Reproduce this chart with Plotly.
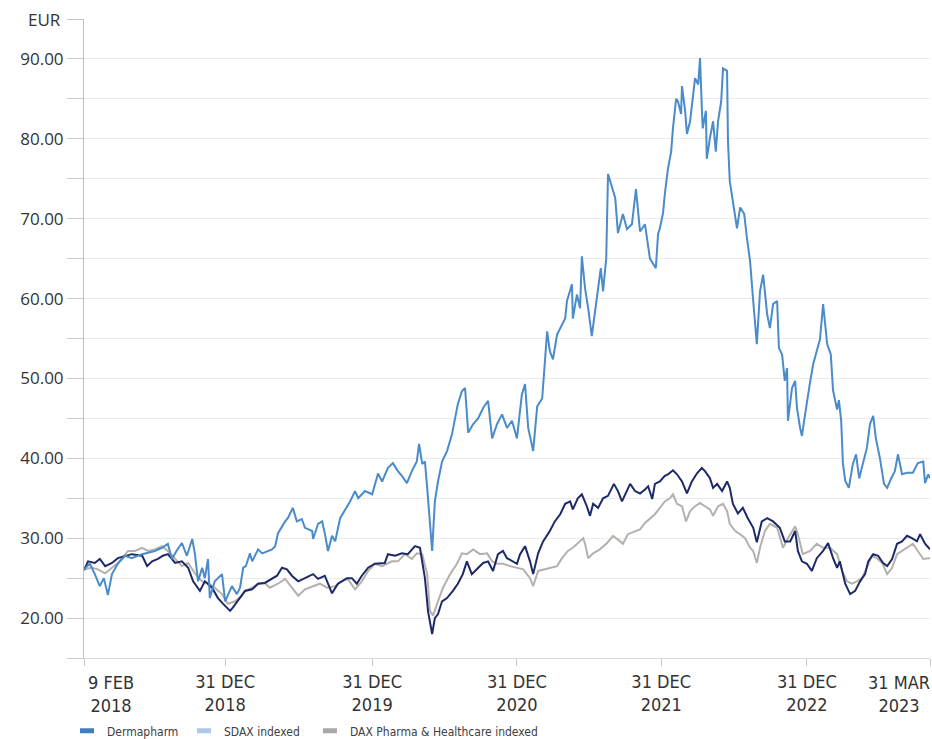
import pandas as pd
import plotly.graph_objects as go

listing_date = "2018-02-09"

# Dermapharm share price (EUR), days since listing
dpx_days = [0,13,24,35,44,53,62,75,91,106,129,146,157,173,186,195,206,217,228,240,246,253,262,268,275,279,290,306,313,328,339,346,353,359,368,373,386,395,406,417,424,430,446,452,463,472,483,490,506,508,519,528,534,541,550,557,568,579,590,601,608,623,639,652,661,674,685,696,705,716,727,738,743,750,756,761,767,772,778,785,794,805,816,823,829,838,845,852,863,874,885,896,905,916,927,938,949,960,971,978,985,996,1005,1016,1020,1027,1033,1040,1049,1060,1067,1071,1082,1084,1093,1100,1104,1111,1118,1126,1133,1140,1146,1151,1158,1162,1171,1178,1184,1195,1204,1215,1224,1233,1244,1255,1268,1273,1277,1284,1288,1295,1302,1306,1313,1317,1324,1326,1333,1337,1344,1348,1355,1362,1366,1370,1372,1379,1381,1388,1395,1401,1406,1413,1417,1426,1428,1432,1439,1448,1455,1464,1470,1477,1484,1492,1499,1506,1515,1521,1528,1537,1541,1548,1554,1559,1561,1570,1577,1581,1588,1592,1599,1603,1610,1617,1625,1632,1639,1648,1656,1661,1670,1674,1679,1683,1688,1696,1705,1712,1719,1727,1736,1743,1750,1756,1765,1774,1781,1790,1798,1805,1814,1825,1838,1849,1861,1865,1872,1876]
dpx_vals = [26.1,26.8,25.5,24.0,25.0,22.9,25.5,26.8,27.8,27.5,
            28.0,28.2,28.4,28.8,29.3,27.4,28.5,29.4,27.8,29.9,
            28.0,24.6,26.3,25.0,27.4,22.5,24.6,25.5,22.1,24.0,
            23.0,23.8,26.3,26.5,28.1,27.1,28.6,28.1,28.4,28.6,
            29.0,30.6,32.1,32.5,33.8,32.1,32.4,31.3,30.9,29.9,
            31.8,32.1,30.6,28.4,30.3,29.6,32.5,33.6,34.6,35.9,
            35.0,35.9,35.5,38.1,37.1,38.8,39.4,38.4,37.8,36.9,
            38.4,39.6,41.8,39.3,39.6,36.3,31.3,28.4,34.6,37.1,
            39.6,40.9,43.0,45.0,46.8,48.4,48.8,43.2,44.3,45.0,
            46.3,47.2,42.5,44.3,45.5,43.8,44.7,42.5,48.0,49.3,
            43.8,40.9,46.5,47.5,50.5,55.9,53.4,52.4,55.5,56.8,
            57.5,59.7,61.8,57.5,60.5,58.8,65.3,61.3,58.8,55.3,
            58.4,61.8,63.8,60.9,65.0,75.6,73.8,72.6,68.2,70.6,
            68.7,69.3,73.7,68.4,69.3,65.0,63.8,68.1,68.8,70.7,
            73.1,76.3,78.4,81.3,85.0,84.7,83.1,86.6,83.5,80.6,
            82.2,84.4,87.6,86.8,90.1,83.9,81.3,83.5,77.5,80.1,
            82.2,78.4,82.2,84.7,88.8,88.5,79.7,74.7,72.2,68.8,
            71.4,70.6,67.6,64.7,59.7,54.3,60.9,63.0,58.0,56.3,
            59.3,59.7,53.8,53.0,49.7,51.3,44.7,48.8,49.7,46.3,
            43.8,42.8,45.5,47.2,49.5,51.8,53.4,54.9,59.3,54.3,
            53.0,48.5,46.1,47.3,44.7,39.3,37.2,36.3,39.3,40.5,
            37.5,39.3,41.3,44.3,45.3,42.5,40.0,36.8,36.3,37.5,
            38.4,40.5,38.0,38.2,38.2,39.4,39.6,36.9,38.0,37.5]

# SDAX indexed
sdax_days = [0,9,24,35,47,62,75,91,106,129,140,151,164,175,186,202,217,231,242,257,268,284,297,308,324,330,341,357,373,386,401,417,428,439,450,461,475,490,508,519,534,550,563,583,594,605,616,630,645,667,674,690,705,718,734,745,756,763,772,778,785,794,805,818,829,840,849,860,874,885,896,907,918,929,938,951,960,967,978,989,996,1007,1018,1033,1044,1056,1067,1078,1084,1095,1104,1115,1122,1129,1140,1151,1162,1175,1184,1193,1204,1211,1222,1233,1244,1251,1260,1266,1277,1288,1295,1306,1315,1326,1337,1348,1359,1370,1377,1388,1395,1404,1415,1426,1432,1439,1450,1461,1472,1484,1492,1503,1515,1528,1543,1554,1566,1577,1583,1592,1603,1614,1625,1639,1650,1661,1670,1676,1688,1699,1710,1721,1732,1739,1750,1761,1772,1781,1792,1803,1814,1825,1836,1847,1854,1865,1876]
sdax_vals = [26.0,27.1,26.9,27.4,26.5,26.9,27.5,27.8,28.0,27.8,26.5,27.1,27.4,27.8,28.0,26.9,27.1,26.3,24.6,23.4,24.6,23.8,22.5,21.8,20.9,21.3,22.1,23.4,23.6,24.3,24.4,25.0,25.3,26.3,26.1,25.3,24.6,25.0,25.5,24.9,25.3,23.1,24.3,25.0,25.0,24.3,25.3,26.3,26.8,26.9,28.0,27.8,28.1,28.0,29.0,28.8,25.0,20.8,18.0,20.0,20.5,22.1,22.5,23.4,24.3,25.5,27.1,25.5,26.3,26.9,27.1,25.9,28.0,28.4,27.5,27.1,26.8,28.0,29.0,27.1,25.5,28.1,29.6,30.9,32.1,33.0,34.3,34.6,33.6,35.0,35.5,34.0,32.8,34.3,33.8,35.0,35.3,36.8,35.9,34.6,35.9,36.8,35.9,35.6,36.1,36.5,34.9,36.8,37.1,37.8,38.0,38.5,38.0,37.1,35.6,37.1,38.1,38.8,38.4,37.5,36.3,36.8,35.9,37.1,36.3,34.3,33.1,33.8,32.5,31.3,29.5,32.1,32.5,32.1,31.3,29.6,29.6,30.9,28.4,27.1,26.8,25.9,27.5,28.4,29.4,27.5,26.3,27.1,24.3,23.0,23.4,24.6,25.5,27.1,28.0,27.8,26.9,26.5,27.4,29.3,29.6,30.3,30.0,29.6,30.5,29.3,28.6]

# DAX Pharma & Healthcare indexed
pharma_days = [0,18,31,47,62,75,98,113,129,142,157,173,186,202,217,231,246,262,275,290,306,319,335,350,357,373,386,401,412,430,446,461,475,490,508,523,539,557,572,585,601,616,630,645,661,683,696,712,727,738,750,761,767,774,785,796,812,827,838,849,863,878,894,905,916,929,945,960,974,989,996,1007,1022,1033,1049,1060,1073,1084,1095,1107,1111,1118,1129,1144,1160,1173,1189,1195,1206,1222,1233,1244,1255,1266,1277,1288,1299,1306,1315,1326,1335,1344,1355,1366,1377,1388,1395,1406,1417,1426,1432,1444,1455,1466,1477,1484,1492,1499,1510,1521,1537,1550,1561,1577,1583,1594,1610,1625,1639,1654,1670,1681,1692,1703,1714,1725,1736,1747,1758,1770,1781,1792,1803,1814,1825,1838,1849,1861,1872,1876]
pharma_vals = [26.1,26.3,26.1,25.6,26.3,26.9,28.4,28.4,28.8,28.4,28.6,29.0,28.4,27.4,26.5,26.9,25.6,24.6,24.4,23.8,23.0,21.8,22.1,22.8,23.4,23.8,24.3,24.4,23.8,24.3,24.9,23.8,22.8,23.6,24.0,24.3,23.8,24.0,24.6,24.9,23.6,24.6,25.9,26.8,26.5,27.1,27.1,28.0,27.4,28.1,28.0,25.5,20.9,20.3,22.1,23.8,25.5,26.8,28.1,28.0,28.6,28.0,28.1,27.1,26.8,26.8,26.5,26.3,26.1,25.0,24.0,25.9,26.1,26.3,26.5,27.5,28.4,28.8,29.4,30.0,29.3,27.5,28.1,28.6,29.4,30.3,29.6,29.3,30.5,30.9,31.1,31.9,32.4,33.0,33.8,34.6,35.0,35.5,34.3,34.0,32.1,33.4,34.0,34.4,34.0,33.6,32.8,34.0,34.3,33.4,31.8,30.9,30.5,30.0,28.8,28.4,26.9,28.8,30.9,31.8,31.3,28.8,30.0,31.5,30.5,28.0,28.4,29.3,28.8,28.8,28.0,25.9,24.6,24.3,24.6,25.0,26.3,27.8,27.5,26.9,25.5,26.3,28.0,28.4,28.8,29.3,28.4,27.4,27.5,27.5]

series_names = ["Dermapharm", "SDAX indexed", "DAX Pharma & Healthcare indexed"]
line_colors = ["#4a8bca", "#1e2a68", "#b5b0ad"]
legend_colors = ["#3f7fc1", "#aec8e8", "#a8a8a8"]

x_tick_dates = ["2018-02-09", "2018-12-19", "2019-11-10", "2020-09-26", "2021-08-12", "2022-07-01", "2023-03-31"]
x_tick_labels = ["9 FEB<br>2018", "31 DEC<br>2018", "31 DEC<br>2019", "31 DEC<br>2020",
                 "31 DEC<br>2021", "31 DEC<br>2022", "31 MAR<br>2023"]
y_tick_vals = [15, 20, 25, 30, 35, 40, 45, 50, 55, 60, 65, 70, 75, 80, 85, 90, 95]
y_tick_text = ["", "20.00", "", "30.00", "", "40.00", "", "50.00", "", "60.00", "", "70.00",
               "", "80.00", "", "90.00", ""]

assert len(dpx_days) == len(dpx_vals)
assert len(sdax_days) == len(sdax_vals)
assert len(pharma_days) == len(pharma_vals)

start = pd.Timestamp(listing_date)
def to_dates(days):
    return start + pd.to_timedelta(days, unit="D")

X_FONT = "Liberation Sans Narrow, DejaVu Sans Condensed, sans-serif"
Y_FONT = "Open Sans, Noto Sans, sans-serif"

fig = go.Figure()
fig.add_trace(go.Scatter(x=to_dates(pharma_days), y=pharma_vals, mode="lines",
                         line=dict(color=line_colors[2], width=2), showlegend=False, hoverinfo="skip"))
fig.add_trace(go.Scatter(x=to_dates(sdax_days), y=sdax_vals, mode="lines",
                         line=dict(color=line_colors[1], width=2), showlegend=False, hoverinfo="skip"))
fig.add_trace(go.Scatter(x=to_dates(dpx_days), y=dpx_vals, mode="lines",
                         line=dict(color=line_colors[0], width=2), showlegend=False, hoverinfo="skip"))

legend_ids = ["legend", "legend2", "legend3"]
legend_x = [-0.0201, 0.1182, 0.2671]
for name, col, lid in zip(series_names, legend_colors, legend_ids):
    fig.add_trace(go.Scatter(x=[None], y=[None], mode="markers", name=name, legend=lid,
                             marker=dict(symbol="line-ew", size=10,
                                         line=dict(color=col, width=5), color=col)))

legend_common = dict(orientation="h", xanchor="left", y=-0.114, yanchor="middle",
                     font=dict(family=X_FONT, size=12, color="#404040"),
                     itemwidth=30, bgcolor="rgba(0,0,0,0)")

# middle tick labels through the axis; the first/last are edge-aligned as in the reference
axis_ticktext = [""] + x_tick_labels[1:-1] + [""]

fig.update_layout(
    width=932, height=739,
    margin=dict(l=84, r=2, t=19, b=81, autoexpand=False),
    paper_bgcolor="white", plot_bgcolor="white",
    font=dict(family=Y_FONT, color="#333333"),
    showlegend=True,
    legend=dict(x=legend_x[0], **legend_common),
    legend2=dict(x=legend_x[1], **legend_common),
    legend3=dict(x=legend_x[2], **legend_common),
    xaxis=dict(type="date", range=[x_tick_dates[0], x_tick_dates[-1]], automargin=False,
               tickmode="array", tickvals=x_tick_dates, ticktext=axis_ticktext,
               ticks="outside", ticklen=7, tickcolor="#c8c8c8", tickwidth=1,
               showline=True, linecolor="#d9d9d9", linewidth=1,
               showgrid=False, zeroline=False,
               tickfont=dict(family=X_FONT, size=18, color="#333333")),
    yaxis=dict(range=[15, 95], automargin=False,
               tickmode="array", tickvals=y_tick_vals, ticktext=y_tick_text,
               ticks="outside", ticklen=16, tickcolor="#c8c8c8", tickwidth=1,
               showline=True, linecolor="#bdbdbd", linewidth=1,
               showgrid=True, gridcolor="#ebebeb", gridwidth=1, zeroline=False,
               tickfont=dict(family=Y_FONT, size=17, color="#333333")),
)

fig.add_annotation(text=x_tick_labels[0], xref="x", yref="paper", x=x_tick_dates[0], y=0,
                   xanchor="left", yanchor="top", align="center", xshift=2, yshift=-12,
                   showarrow=False, font=dict(family=X_FONT, size=18, color="#333333"))
fig.add_annotation(text=x_tick_labels[-1], xref="x", yref="paper", x=x_tick_dates[-1], y=0,
                   xanchor="right", yanchor="top", align="center", xshift=2, yshift=-12,
                   showarrow=False, font=dict(family=X_FONT, size=18, color="#333333"))

fig.add_annotation(text="EUR", xref="paper", yref="y", x=0, y=95, xanchor="right",
                   yanchor="middle", xshift=-21, showarrow=False,
                   font=dict(family=Y_FONT, size=17, color="#333333"))

fig.write_html("out.html", config={"displayModeBar": False},
               post_script="document.body.style.margin='0';document.body.style.overflow='hidden';")
